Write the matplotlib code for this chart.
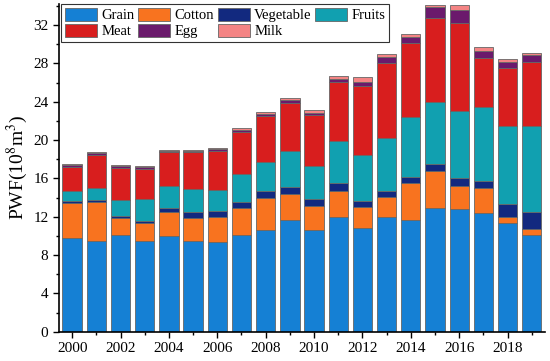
import matplotlib
matplotlib.use("Agg")
import matplotlib.pyplot as plt
from matplotlib.ticker import MultipleLocator
from matplotlib.patches import Patch
import numpy as np

plt.rcParams['font.family'] = ['Liberation Serif', 'DejaVu Serif']
plt.rcParams['mathtext.fontset'] = 'stix'

years = np.arange(2000, 2020)

# PWF components (10^8 m^3), bottom to top
grain = [9.81, 9.47, 10.09, 9.47, 9.96, 9.50, 9.36, 10.09, 10.65, 11.69,
         10.65, 11.94, 10.82, 11.94, 11.66, 12.88, 12.84, 12.36, 11.32, 10.06]
cotton = [3.66, 4.07, 1.74, 1.84, 2.57, 2.40, 2.64, 2.79, 3.31, 2.68,
          2.47, 2.75, 2.20, 2.15, 3.89, 3.89, 2.40, 2.61, 0.62, 0.69]
vegetable = [0.21, 0.21, 0.28, 0.25, 0.38, 0.56, 0.60, 0.69, 0.73, 0.77,
             0.73, 0.80, 0.62, 0.56, 0.57, 0.70, 0.77, 0.79, 1.39, 1.71]
fruits = [1.04, 1.25, 1.64, 2.26, 2.33, 2.44, 2.19, 2.89, 3.06, 3.75,
          3.48, 4.42, 4.80, 5.57, 6.32, 6.53, 7.06, 7.73, 8.14, 9.01]
meat = [2.50, 3.48, 3.37, 3.16, 3.48, 3.82, 4.07, 4.42, 4.80, 5.01,
        5.29, 6.13, 7.21, 7.86, 7.73, 8.78, 9.18, 5.05, 6.03, 6.71]
egg = [0.21, 0.14, 0.18, 0.18, 0.14, 0.14, 0.18, 0.21, 0.17, 0.29,
       0.24, 0.34, 0.45, 0.63, 0.62, 1.14, 1.36, 0.79, 0.62, 0.70]
milk = [0.11, 0.11, 0.10, 0.10, 0.11, 0.11, 0.14, 0.14, 0.21, 0.24,
        0.28, 0.35, 0.45, 0.28, 0.31, 0.21, 0.49, 0.36, 0.31, 0.24]

names = ['Grain', 'Cotton', 'Vegetable', 'Fruits', 'Meat', 'Egg', 'Milk']
series = [grain, cotton, vegetable, fruits, meat, egg, milk]
colors = ['#1580d4', '#f8731f', '#12297f', '#11a0b0', '#d81e1e', '#6b1a6c', '#f48484']

fig = plt.figure(figsize=(5.5, 3.61), dpi=100)
ax = fig.add_axes([0.107, 0.081, 0.884, 0.908])

bottom = np.zeros(len(years))
for name, vals, c in zip(names, series, colors):
    vals = np.array(vals)
    ax.bar(years, vals, width=0.8, bottom=bottom, color=c,
           edgecolor='#666666', linewidth=0.6, label=name)
    bottom += vals

ax.set_xlim(1999.45, 2019.55)
ax.set_ylim(0, 34.2)
ax.xaxis.set_major_locator(MultipleLocator(2))
ax.xaxis.set_minor_locator(MultipleLocator(1))
ax.yaxis.set_major_locator(MultipleLocator(4))
ax.yaxis.set_minor_locator(MultipleLocator(2))
ax.tick_params(which='major', direction='out', length=4, width=1, labelsize=11)
ax.tick_params(which='minor', direction='out', length=2.5, width=1)
for s in ['top', 'right']:
    ax.spines[s].set_visible(False)
for s in ['left', 'bottom']:
    ax.spines[s].set_linewidth(1.2)

ax.set_ylabel('PWF(10$^8$m$^3$)', fontsize=14, labelpad=2)

# legend laid out column-wise to give rows: Grain Cotton Vegetable Fruits / Meat Egg Milk
order = [0, 4, 1, 5, 2, 6, 3]
handles = [Patch(facecolor=colors[i], edgecolor='#666666', linewidth=0.6) for i in order]
labels = [names[i] for i in order]
leg = ax.legend(handles, labels, ncol=4, loc='upper left',
                bbox_to_anchor=(0.005, 1.0), fontsize=10.5, frameon=True,
                fancybox=False, edgecolor='black', handlelength=2.2,
                handleheight=1.0, handletextpad=0.3, columnspacing=0.25,
                borderpad=0.25, labelspacing=0.12, borderaxespad=0)
leg.get_frame().set_linewidth(0.8)

fig.savefig('out.png', dpi=100)
